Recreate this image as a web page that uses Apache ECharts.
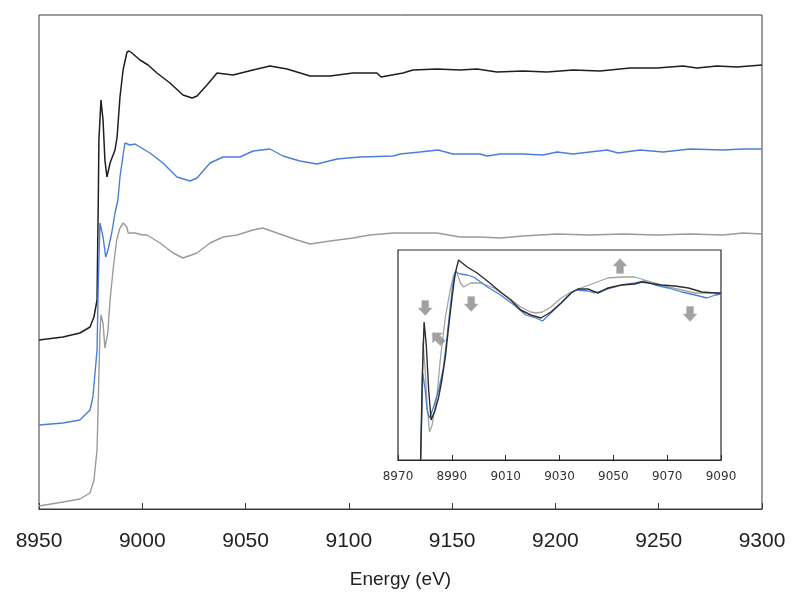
<!DOCTYPE html>
<html>
<head>
<meta charset="utf-8">
<script src="https://cdn.jsdelivr.net/npm/echarts@6/dist/echarts.min.js"></script>
<style>
html,body{margin:0;padding:0;background:#fff;}
#c{width:800px;height:599px;}
</style>
</head>
<body>
<div id="c"></div>
<script>
// ---- main panel data (energy in eV, offset normalized absorption) ----
const blackE = [8950, 8961.6, 8969.8, 8974.7, 8976.6, 8978.1, 8978.7, 8979.0, 8980.0, 8981.0, 8981.9, 8982.9, 8984.4, 8986.8, 8987.8, 8989.2, 8990.7, 8992.6, 8993.6, 8995.0, 8998.9, 9002.8, 9007.1, 9013.4, 9019.7, 9024.1, 9026.5, 9031.3, 9036.2, 9043.9, 9053.6, 9061.8, 9070.1, 9081.2, 9090.9, 9102.0, 9113.6, 9115.6, 9126.2, 9131.0, 9142.7, 9153.8, 9162.0, 9171.7, 9184.3, 9195.9, 9208.5, 9221.6, 9236.1, 9249.2, 9261.8, 9268.5, 9273.4, 9278.2, 9287.9, 9300];
const blackV = [1.69, 1.72, 1.76, 1.82, 1.92, 2.09, 3.09, 3.69, 4.09, 3.89, 3.49, 3.32, 3.46, 3.59, 3.72, 4.12, 4.39, 4.57, 4.58, 4.56, 4.49, 4.44, 4.36, 4.26, 4.14, 4.11, 4.13, 4.24, 4.36, 4.34, 4.39, 4.43, 4.40, 4.33, 4.33, 4.36, 4.36, 4.32, 4.36, 4.39, 4.40, 4.39, 4.40, 4.37, 4.38, 4.37, 4.39, 4.38, 4.41, 4.41, 4.43, 4.41, 4.42, 4.43, 4.42, 4.44];

const blueE = [8950, 8961.6, 8969.8, 8974.7, 8976.1, 8978.1, 8978.7, 8979.5, 8981.0, 8982.3, 8983.4, 8985.2, 8986.8, 8988.2, 8989.2, 8990.7, 8991.6, 8994.1, 8996.5, 8998.9, 9003.7, 9010.0, 9016.8, 9023.1, 9026.5, 9032.8, 9039.1, 9047.3, 9053.6, 9061.8, 9068.1, 9076.3, 9084.6, 9094.3, 9105.4, 9121.4, 9124.8, 9134.4, 9143.2, 9150.4, 9163.5, 9166.9, 9173.2, 9184.3, 9194.0, 9200.8, 9208.5, 9216.7, 9225.0, 9230.3, 9240.9, 9252.1, 9265.1, 9281.1, 9290.8, 9300];
const blueV = [0.84, 0.86, 0.89, 0.99, 1.12, 1.59, 2.26, 2.86, 2.72, 2.52, 2.59, 2.76, 2.96, 3.09, 3.32, 3.54, 3.66, 3.64, 3.65, 3.62, 3.56, 3.46, 3.32, 3.28, 3.31, 3.46, 3.52, 3.52, 3.58, 3.60, 3.53, 3.48, 3.45, 3.50, 3.52, 3.53, 3.55, 3.57, 3.59, 3.55, 3.55, 3.53, 3.55, 3.55, 3.54, 3.57, 3.55, 3.57, 3.59, 3.56, 3.59, 3.57, 3.60, 3.59, 3.60, 3.60];

const grayE = [8950, 8961.6, 8969.8, 8974.7, 8976.6, 8978.1, 8978.7, 8979.5, 8980.0, 8981.0, 8981.9, 8983.3, 8984.4, 8986.0, 8987.6, 8989.2, 8990.8, 8992.5, 8993.2, 8996.5, 9000.3, 9002.3, 9008.6, 9014.9, 9019.7, 9026.5, 9032.8, 9039.1, 9045.9, 9053.6, 9058.4, 9065.2, 9074.9, 9081.2, 9090.9, 9102.0, 9110.2, 9121.4, 9134.4, 9142.7, 9153.8, 9163.5, 9173.2, 9184.3, 9200.8, 9216.7, 9232.7, 9249.2, 9265.1, 9281.1, 9290.8, 9300];
const grayV = [0.03, 0.07, 0.10, 0.16, 0.29, 0.59, 1.09, 1.76, 1.94, 1.86, 1.61, 1.76, 2.09, 2.42, 2.69, 2.81, 2.86, 2.82, 2.76, 2.76, 2.74, 2.74, 2.66, 2.56, 2.51, 2.56, 2.66, 2.72, 2.74, 2.79, 2.81, 2.76, 2.69, 2.65, 2.68, 2.71, 2.74, 2.76, 2.76, 2.76, 2.72, 2.72, 2.71, 2.73, 2.75, 2.74, 2.75, 2.74, 2.75, 2.74, 2.76, 2.75];

// ---- inset data (overlaid, normalized) ----
const iBlackE = [8978.4, 8979.0, 8979.7, 8980.5, 8981.4, 8982.3, 8983.8, 8985.1, 8986.3, 8987.6, 8988.8, 8990.1, 8991.3, 8992.5, 8995.7, 8999.4, 9003.2, 9008.1, 9011.9, 9015.6, 9019.3, 9023.1, 9026.8, 9030.6, 9034.3, 9036.8, 9040.5, 9044.3, 9048.0, 9053.0, 9058.0, 9060.5, 9063.0, 9067.9, 9072.9, 9077.9, 9082.9, 9087.9, 9090];
const iBlackV = [0.00, 0.80, 1.38, 1.15, 0.70, 0.40, 0.50, 0.63, 0.80, 1.03, 1.33, 1.63, 1.87, 2.00, 1.93, 1.87, 1.79, 1.68, 1.60, 1.50, 1.45, 1.42, 1.48, 1.57, 1.67, 1.71, 1.71, 1.67, 1.72, 1.75, 1.76, 1.78, 1.77, 1.75, 1.74, 1.72, 1.68, 1.67, 1.67];

const iBlueE = [8978.4, 8978.8, 8979.2, 8980.1, 8980.8, 8981.7, 8983.2, 8985.1, 8986.9, 8988.2, 8989.4, 8990.4, 8991.3, 8993.2, 8995.7, 8998.1, 9000.7, 9003.2, 9008.1, 9013.1, 9017.5, 9021.2, 9023.7, 9026.8, 9030.6, 9034.3, 9036.2, 9040.5, 9043.0, 9048.0, 9053.0, 9058.0, 9061.7, 9065.5, 9070.4, 9075.4, 9080.4, 9084.8, 9087.9, 9090];
const iBlueV = [0.00, 0.40, 0.87, 0.70, 0.50, 0.42, 0.53, 0.70, 0.93, 1.23, 1.53, 1.77, 1.88, 1.86, 1.85, 1.83, 1.78, 1.73, 1.65, 1.55, 1.45, 1.42, 1.39, 1.47, 1.57, 1.67, 1.70, 1.69, 1.67, 1.71, 1.75, 1.77, 1.79, 1.75, 1.72, 1.68, 1.65, 1.62, 1.65, 1.66];

const iGrayE = [8978.4, 8979.0, 8979.3, 8980.1, 8980.8, 8981.7, 8982.7, 8984.5, 8985.7, 8987.6, 8989.4, 8990.7, 8991.7, 8993.2, 8994.4, 8996.9, 9000.7, 9005.6, 9010.6, 9015.6, 9019.3, 9021.2, 9023.7, 9026.8, 9030.6, 9034.3, 9038.0, 9043.0, 9048.0, 9053.0, 9058.0, 9061.7, 9065.5, 9070.4, 9075.4, 9080.4, 9085.4, 9090];
const iGrayV = [0.00, 0.70, 1.18, 0.90, 0.55, 0.28, 0.35, 0.65, 1.00, 1.43, 1.70, 1.85, 1.89, 1.77, 1.73, 1.77, 1.77, 1.72, 1.63, 1.53, 1.48, 1.47, 1.48, 1.53, 1.62, 1.68, 1.72, 1.77, 1.82, 1.83, 1.83, 1.80, 1.77, 1.73, 1.70, 1.67, 1.67, 1.67];

// ---- inset arrow annotations ----
const arrowE = [8980.1, 8997.2, 8984.7, 9052.5, 9078.5];
const arrowV = [1.52, 1.56, 1.22, 1.94, 1.46];
const arrowDir = ['down', 'down', 'upleft', 'up', 'down'];

const zip = (a, b) => a.map((v, i) => [v, b[i]]);
const rotFor = { down: 0, up: 180, upleft: -135 };

const chart = echarts.init(document.getElementById('c'), null, { renderer: 'canvas' });
const FONT = '"Liberation Sans", Arial, sans-serif';

const lineS = (name, data, color, w, xi, z) => ({
  name, type: 'line', data, xAxisIndex: xi, yAxisIndex: xi,
  showSymbol: false, symbol: 'none', smooth: false, z: z,
  lineStyle: { color, width: w }, animation: false, silent: true
});

chart.setOption({
  backgroundColor: '#fff',
  animation: false,
  grid: [
    { left: 39, right: 38, top: 15, bottom: 90, show: true, borderColor: '#3a3a3a', borderWidth: 1, backgroundColor: 'transparent' },
    { left: 398, right: 79, top: 250, bottom: 139, show: true, borderColor: '#2a2a2a', borderWidth: 1.2, backgroundColor: '#fff', z: 5 }
  ],
  xAxis: [
    { type: 'value', gridIndex: 0, min: 8950, max: 9300, interval: 50,
      axisLine: { show: true, lineStyle: { color: '#3a3a3a', width: 1.2 } },
      axisTick: { show: true, inside: true, length: 6, lineStyle: { color: '#3a3a3a' } },
      splitLine: { show: false },
      axisLabel: { fontSize: 21, color: '#222', fontFamily: FONT, margin: 22, formatter: v => String(v) },
      name: 'Energy (eV)', nameLocation: 'middle', nameGap: 61,
      nameTextStyle: { fontSize: 19, color: '#222', fontFamily: FONT } },
    { type: 'value', gridIndex: 1, min: 8970, max: 9090, interval: 20, z: 6,
      axisLine: { show: true, lineStyle: { color: '#2a2a2a', width: 1.2 } },
      axisTick: { show: true, inside: true, length: 5, lineStyle: { color: '#2a2a2a' } },
      splitLine: { show: false },
      axisLabel: { fontSize: 12, color: '#333', fontFamily: '"DejaVu Sans", Verdana, sans-serif', margin: 11, formatter: v => String(v) } }
  ],
  yAxis: [
    { type: 'value', gridIndex: 0, min: 0, max: 4.94,
      axisLine: { show: false }, axisTick: { show: false }, axisLabel: { show: false }, splitLine: { show: false } },
    { type: 'value', gridIndex: 1, min: 0, max: 2.1,
      axisLine: { show: false }, axisTick: { show: false }, axisLabel: { show: false }, splitLine: { show: false } }
  ],
  series: [
    lineS('black', zip(blackE, blackV), '#1e1e1e', 1.5, 0, 2),
    lineS('blue', zip(blueE, blueV), '#4a7fd6', 1.4, 0, 3),
    lineS('gray', zip(grayE, grayV), '#9b9b9b', 1.4, 0, 4),
    lineS('ins-gray', zip(iGrayE, iGrayV), '#a3a3a3', 1.3, 1, 10),
    lineS('ins-blue', zip(iBlueE, iBlueV), '#4a7fd6', 1.3, 1, 11),
    lineS('ins-black', zip(iBlackE, iBlackV), '#2e2e2e', 1.4, 1, 12),
    {
      name: 'arrows', type: 'scatter', xAxisIndex: 1, yAxisIndex: 1, z: 13, silent: true,
      data: arrowE.map((e, i) => ({ value: [e, arrowV[i]], symbolRotate: rotFor[arrowDir[i]] })),
      symbol: 'path://M3,0 L9,0 L9,7 L12,7 L6,14 L0,7 L3,7 Z',
      symbolSize: [14, 15],
      itemStyle: { color: '#8a8a8a', borderColor: '#b5b5b5', borderWidth: 0.6 }
    }
  ]
});
</script>
</body>
</html>
